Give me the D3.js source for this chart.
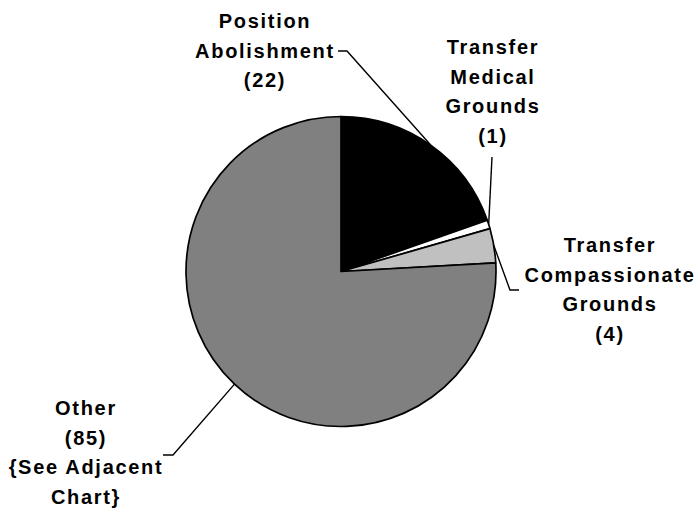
<!DOCTYPE html>
<html>
<head>
<meta charset="utf-8">
<script src="https://cdn.jsdelivr.net/npm/d3@7"></script>
<style>
  body { margin: 0; background: #fff; }
  text { font-family: "Liberation Sans", Arial, sans-serif; font-weight: bold; font-size: 20px; letter-spacing: 1.7px; fill: #000; }
</style>
</head>
<body>
<div id="viz"></div>
<script>

/* pie chart of separation reasons */

// data
const categories = ["Position Abolishment", "Transfer Medical Grounds", "Transfer Compassionate Grounds", "Other"];
const values = [22, 1, 4, 85];
const labelLines = [
    ["Position", "Abolishment"],
    ["Transfer", "Medical", "Grounds"],
    ["Transfer", "Compassionate", "Grounds"],
    ["Other"]
];
const labelExtra = [[], [], [], ["{See Adjacent", "Chart}"]];
const fills = ["#000000", "#ffffff", "#c0c0c0", "#808080"];

const width = 695, height = 512;
const cx = 341, cy = 271.5, radius = 155;

// label layout: text centre x, first baseline y, leader elbow and end
const labelLayout = [
    { x: 264, y: 28,  elbow: [347, 51],  end: [338, 51] },
    { x: 492, y: 54,  elbow: [492, 157], end: [492, 157] },
    { x: 609, y: 252, elbow: [510, 290], end: [519, 290] },
    { x: 85,  y: 415, elbow: [173, 455], end: [163, 455] }
];
const lineStep = 29.5;

const svg = d3.select("#viz")
    .append("svg")
        .attr("width", width)
        .attr("height", height);

const g = svg.append("g")
    .attr("transform", `translate(${cx},${cy})`);

const pie = d3.pie().sort(null).value(d => d);
const arcs = pie(values);

const arc = d3.arc().innerRadius(0).outerRadius(radius);
const edgeArc = d3.arc().innerRadius(radius).outerRadius(radius);

// slices
g.selectAll("path.slice")
    .data(arcs)
    .enter()
    .append("path")
        .attr("class", "slice")
        .attr("d", arc)
        .attr("fill", (d, i) => fills[i])
        .attr("stroke", "#000")
        .attr("stroke-width", 1.7)
        .attr("stroke-linejoin", "round");

// leader lines (pie edge -> elbow -> label)
svg.selectAll("path.leader")
    .data(arcs)
    .enter()
    .append("path")
        .attr("class", "leader")
        .attr("fill", "none")
        .attr("stroke", "#000")
        .attr("stroke-width", 1.4)
        .attr("d", (d, i) => {
            let p = edgeArc.centroid(d);
            let L = labelLayout[i];
            return d3.line()([[cx + p[0], cy + p[1]], L.elbow, L.end]);
        });

// labels
arcs.forEach((d, i) => {
    let L = labelLayout[i];
    let lines = labelLines[i].concat([`(${values[i]})`], labelExtra[i]);
    let t = svg.append("text")
        .attr("text-anchor", "middle");
    lines.forEach((s, k) => {
        t.append("tspan")
            .attr("x", L.x + 1)
            .attr("y", L.y + k * lineStep)
            .text(s);
    });
});

</script>
</body>
</html>
